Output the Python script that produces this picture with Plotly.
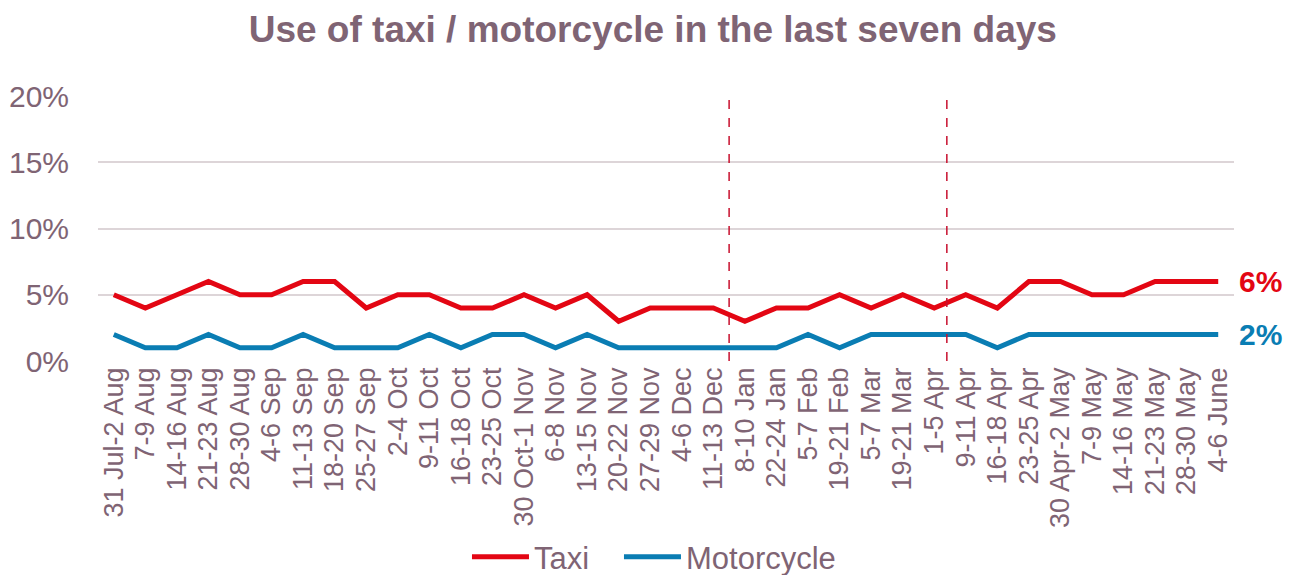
import plotly.graph_objects as go

categories = ["31 Jul-2 Aug", "7-9 Aug", "14-16 Aug", "21-23 Aug", "28-30 Aug", "4-6 Sep",
              "11-13 Sep", "18-20 Sep", "25-27 Sep", "2-4 Oct", "9-11 Oct", "16-18 Oct",
              "23-25 Oct", "30 Oct-1 Nov", "6-8 Nov", "13-15 Nov", "20-22 Nov", "27-29 Nov",
              "4-6 Dec", "11-13 Dec", "8-10 Jan", "22-24 Jan", "5-7 Feb", "19-21 Feb",
              "5-7 Mar", "19-21 Mar", "1-5 Apr", "9-11 Apr", "16-18 Apr", "23-25 Apr",
              "30 Apr-2 May", "7-9 May", "14-16 May", "21-23 May", "28-30 May", "4-6 June"]
taxi = [5, 4, 5, 6, 5, 5, 6, 6, 4, 5, 5, 4, 4, 5, 4, 5, 3, 4, 4, 4, 3, 4, 4, 5,
        4, 5, 4, 5, 4, 6, 6, 5, 5, 6, 6, 6]
motorcycle = [2, 1, 1, 2, 1, 1, 2, 1, 1, 1, 2, 1, 2, 2, 1, 2, 1, 1, 1, 1, 1, 1, 2, 1,
              2, 2, 2, 2, 1, 2, 2, 2, 2, 2, 2, 2]
y_ticks = [0, 5, 10, 15, 20]
marker_positions = [19.5, 26.4]  # dashed vertical separators (category index units)

FONT = "Arial, Liberation Sans, sans-serif"
TXT = "#7F6474"
RED = "#E30613"
BLUE = "#0A7DB3"

idx = list(range(len(categories)))
fig = go.Figure()
fig.add_trace(go.Scatter(x=idx, y=[v / 100 for v in taxi], mode="lines", name="Taxi",
                         line=dict(color=RED, width=5), legend="legend"))
fig.add_trace(go.Scatter(x=idx, y=[v / 100 for v in motorcycle], mode="lines", name="Motorcycle",
                         line=dict(color=BLUE, width=5), legend="legend2"))

for p in marker_positions:
    fig.add_shape(type="line", xref="x", yref="y", x0=p, x1=p, y0=0, y1=0.2,
                  line=dict(color="#C8102E", width=1.5, dash="dash"))

fig.add_annotation(x=len(categories) - 1, y=taxi[-1] / 100, xref="x", yref="y",
                   text="<b>%d%%</b>" % taxi[-1], showarrow=False, xanchor="left", xshift=19,
                   font=dict(family=FONT, size=30, color=RED))
fig.add_annotation(x=len(categories) - 1, y=motorcycle[-1] / 100, xref="x", yref="y",
                   text="<b>%d%%</b>" % motorcycle[-1], showarrow=False, xanchor="left", xshift=19,
                   font=dict(family=FONT, size=30, color=BLUE))

# chart frame right edge
fig.add_shape(type="line", xref="paper", yref="paper", x0=1.0625, x1=1.0625, y0=-0.9, y1=1.4,
              line=dict(color="#D0D0D0", width=1.5))

legend_style = dict(orientation="h", xanchor="left", y=-0.74, yanchor="middle",
                    font=dict(family=FONT, size=31, color=TXT), bgcolor="rgba(0,0,0,0)",
                    itemwidth=57, tracegroupgap=0)

fig.update_layout(
    width=1300, height=567,
    margin=dict(l=90, r=74, t=88, b=214, autoexpand=False),
    paper_bgcolor="white", plot_bgcolor="white",
    title=dict(text="<b>Use of taxi / motorcycle in the last seven days</b>",
               x=0.496, xanchor="center", y=0.962, yanchor="middle",
               font=dict(family=FONT, size=37, color=TXT)),
    font=dict(family=FONT, color=TXT),
    showlegend=True,
    legend=dict(x=0.3248, **legend_style),
    legend2=dict(x=0.4586, **legend_style),
)
fig.update_xaxes(tickmode="array", tickvals=idx, ticktext=categories, tickangle=-90,
                 range=[-0.5, len(categories) - 0.5], showgrid=False, zeroline=False,
                 showline=False, ticks="", automargin=False,
                 tickfont=dict(family=FONT, size=27, color=TXT))
fig.update_yaxes(range=[0, 0.2], tickmode="array", tickvals=[t / 100 for t in y_ticks],
                 ticktext=["%d%%" % t for t in y_ticks], showgrid=True, gridcolor="#DDD5D8",
                 gridwidth=1.5, zeroline=False, showline=False, ticks="", ticklabelstandoff=28,
                 automargin=False, tickfont=dict(family=FONT, size=30, color=TXT))

fig.write_html("out.html")
